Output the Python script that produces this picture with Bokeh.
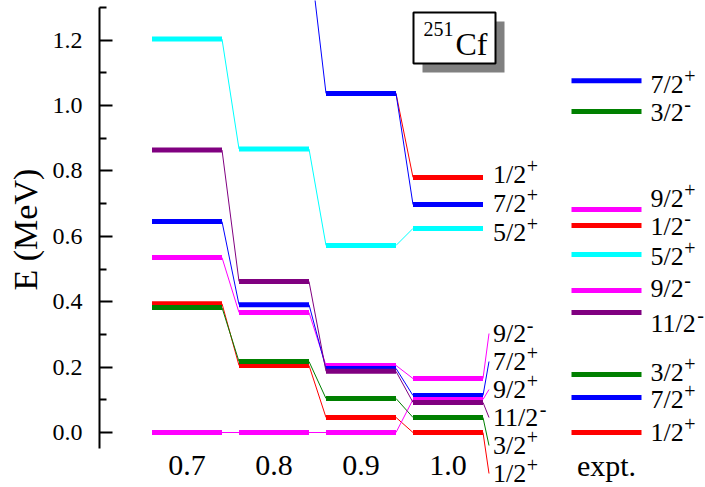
import math
from bokeh.plotting import figure
from bokeh.models import Range1d, FixedTicker, PrintfTickFormatter, ColumnDataSource, Title
from bokeh.core.properties import value
from bokeh.embed import file_html
from bokeh.resources import INLINE

# ------------------------------------------------------------------ data
columns = ["0.7", "0.8", "0.9", "1.0"]
expt_name = "expt."
nucleus_mass = "251"
nucleus_sym = "Cf"
y_title = "E (MeV)"

# calculated levels (MeV) for each column; None = not present / off scale
cyan_5_2p = [1.203, 0.867, 0.572, 0.624]
red_1_2p_hi = [None, None, 1.037, 0.780]
blue_7_2p_hi = [None, 1.480, 1.037, 0.697]
red_1_2p = [0.394, 0.205, 0.046, 0.000]
green_3_2p = [0.382, 0.217, 0.104, 0.046]
magenta_9_2m = [0.535, 0.367, 0.205, 0.165]
blue_7_2p = [0.645, 0.391, 0.196, 0.113]
magenta_9_2p = [0.000, 0.000, 0.000, 0.101]
purple_11_2m = [0.864, 0.462, 0.187, 0.092]

bands = [cyan_5_2p, red_1_2p_hi, blue_7_2p_hi, red_1_2p, green_3_2p,
         magenta_9_2m, blue_7_2p, magenta_9_2p, purple_11_2m]
band_spin = ["5/2", "1/2", "7/2", "1/2", "3/2", "9/2", "7/2", "9/2", "11/2"]
band_parity = ["+", "+", "+", "+", "+", "-", "+", "+", "-"]
band_color = ["#00FFFF", "#FF0000", "#0000FF", "#FF0000", "#008000",
              "#FF00FF", "#0000FF", "#FF00FF", "#800080"]

# experimental levels
expt_spin = ["7/2", "3/2", "9/2", "1/2", "5/2", "9/2", "11/2", "3/2", "7/2", "1/2"]
expt_parity = ["+", "-", "+", "-", "+", "-", "-", "+", "+", "+"]
expt_energy = [1.076, 0.982, 0.682, 0.633, 0.544, 0.434, 0.367, 0.177, 0.107, 0.000]
expt_color = ["#0000FF", "#008000", "#FF00FF", "#FF0000", "#00FFFF",
              "#FF00FF", "#800080", "#008000", "#0000FF", "#FF0000"]

tick_vals = [0.0, 0.2, 0.4, 0.6, 0.8, 1.0, 1.2]
minor_vals = [0.1, 0.3, 0.5, 0.7, 0.9, 1.1, 1.3]

# ------------------------------------------------------------------ layout
PX = 327.0                    # pixels per MeV


def E_at(py):                 # page y pixel -> energy coordinate
    return (432.0 - py) / PX


W, H = 705, 487
col_center = [186.5 + 87 * i for i in range(len(columns))]
expt_center = 606.0
HALF = 35.0
FONT = "Liberation Serif"
LBL_SIZE = "26px"
SUP_SIZE = "20px"
DIGIT_W, SLASH_W = 13.0, 7.3
GAP = 9

# label positions (page px) for the last calculated column, band order
last_label_py = [232, 174, 203, 473, 445, 333, 361, 389, 417]
fan_bands = {3, 4, 5, 6, 7, 8}
expt_label_py = [84, 112, 198, 226, 256, 288, 323, 372, 399, 432]

p = figure(width=W, height=H,
           x_range=Range1d(99, W), y_range=Range1d(E_at(H), E_at(0)),
           output_backend="svg", toolbar_location=None, x_axis_location=None,
           min_border_left=99, min_border_right=0, min_border_top=0,
           min_border_bottom=0)
p.outline_line_color = None
p.grid.visible = False
p.background_fill_color = "white"

ax = p.yaxis[0]
ax.ticker = FixedTicker(ticks=tick_vals, minor_ticks=minor_vals)
ax.formatter = PrintfTickFormatter(format="%.1f")
ax.bounds = (E_at(448), 1.3)
ax.major_tick_in = 13
ax.major_tick_out = 0
ax.minor_tick_in = 7
ax.minor_tick_out = 0
ax.axis_line_width = 2
ax.major_tick_line_width = 2
ax.minor_tick_line_width = 2
ax.major_label_text_font = FONT
ax.major_label_text_font_size = "24px"
ax.major_label_text_color = "black"
ax.major_label_standoff = 17

# y axis title, as a left-side title so that it can be shifted vertically
p.add_layout(Title(text=y_title, text_font=FONT, text_font_size="34px",
                   text_font_style="normal", text_color="black", align="left",
                   vertical_align="middle", offset=H - 290, standoff=9), "left")

# ------------------------------------------------------------------ title box
shadow = 9
bx0, bx1, by0, by1 = 413, 495, 12, 63
p.quad(left=[bx0 + shadow], right=[bx1 + shadow], top=[E_at(by0 + shadow)],
       bottom=[E_at(by1 + shadow)], fill_color="#808080", line_color=None)
p.quad(left=[bx0], right=[bx1], top=[E_at(by0)], bottom=[E_at(by1)],
       fill_color="white", line_color="black", line_width=2)
p.text(x=[423], y=[E_at(28.5)], text=[nucleus_mass], text_font=value(FONT),
       text_font_size=value("20px"), text_baseline="middle", text_align="left",
       text_color="black")
p.text(x=[455], y=[E_at(43)], text=[nucleus_sym], text_font=value(FONT),
       text_font_size=value("32px"), text_baseline="middle", text_align="left",
       text_color="black")


def label_width(s):
    return sum(SLASH_W if ch == "/" else DIGIT_W for ch in s)


# ------------------------------------------------------------------ bands
lab_x, lab_y, lab_t, sup_t, sup_xo = [], [], [], [], []
for b, (vals, col) in enumerate(zip(bands, band_color)):
    # connectors between neighbouring columns
    cx0, cy0, cx1, cy1 = [], [], [], []
    for i in range(len(vals) - 1):
        if vals[i] is not None and vals[i + 1] is not None:
            cx0.append(col_center[i] + HALF)
            cy0.append(vals[i])
            cx1.append(col_center[i + 1] - HALF)
            cy1.append(vals[i + 1])
    if cx0:
        p.segment(x0=cx0, y0=cy0, x1=cx1, y1=cy1, line_color=col, line_width=1)
    # level bars
    bx_0 = [col_center[i] - HALF for i, v in enumerate(vals) if v is not None]
    bx_1 = [col_center[i] + HALF for i, v in enumerate(vals) if v is not None]
    bys = [v for v in vals if v is not None]
    p.segment(x0=bx_0, y0=bys, x1=bx_1, y1=bys, line_color=col, line_width=5,
              line_cap="butt")
    # labels on the last column
    xe = col_center[-1] + HALF
    ly = E_at(last_label_py[b])
    if b in fan_bands:
        p.segment(x0=[xe], y0=[vals[-1]], x1=[xe + 6], y1=[ly], line_color=col,
                  line_width=1)
    lab_x.append(xe + 1)
    lab_y.append(ly)
    lab_t.append(band_spin[b])
    sup_t.append(band_parity[b])
    sup_xo.append(GAP + label_width(band_spin[b]) + 0.5)

# experimental levels
ex0 = [expt_center - HALF] * len(expt_energy)
ex1 = [expt_center + HALF] * len(expt_energy)
p.segment(x0=ex0, y0=expt_energy, x1=ex1, y1=expt_energy, line_color=expt_color,
          line_width=5, line_cap="butt")
for k in range(len(expt_energy)):
    lab_x.append(expt_center + HALF)
    lab_y.append(E_at(expt_label_py[k]))
    lab_t.append(expt_spin[k])
    sup_t.append(expt_parity[k])
    sup_xo.append(GAP + label_width(expt_spin[k]) + 0.5)

lab_src = ColumnDataSource(dict(x=lab_x, y=lab_y, t=lab_t))
sup_src = ColumnDataSource(dict(x=lab_x, y=lab_y, t=sup_t, xo=sup_xo))
p.text(x="x", y="y", text="t", source=lab_src, x_offset=GAP, text_font=value(FONT),
       text_font_size=value(LBL_SIZE), text_baseline="middle", text_align="left",
       text_color="black")
p.text(x="x", y="y", text="t", source=sup_src, x_offset="xo", y_offset=-9,
       text_font=value(FONT), text_font_size=value(SUP_SIZE),
       text_baseline="middle", text_align="left", text_color="black")

# column captions
cap_x = col_center + [expt_center]
cap_t = columns + [expt_name]
p.text(x=cap_x, y=[E_at(464.5)] * len(cap_x), text=cap_t, text_font=value(FONT),
       text_font_size=value("30px"), text_baseline="middle", text_align="center",
       text_color="black")

open("out.html", "w").write(file_html(p, INLINE))
